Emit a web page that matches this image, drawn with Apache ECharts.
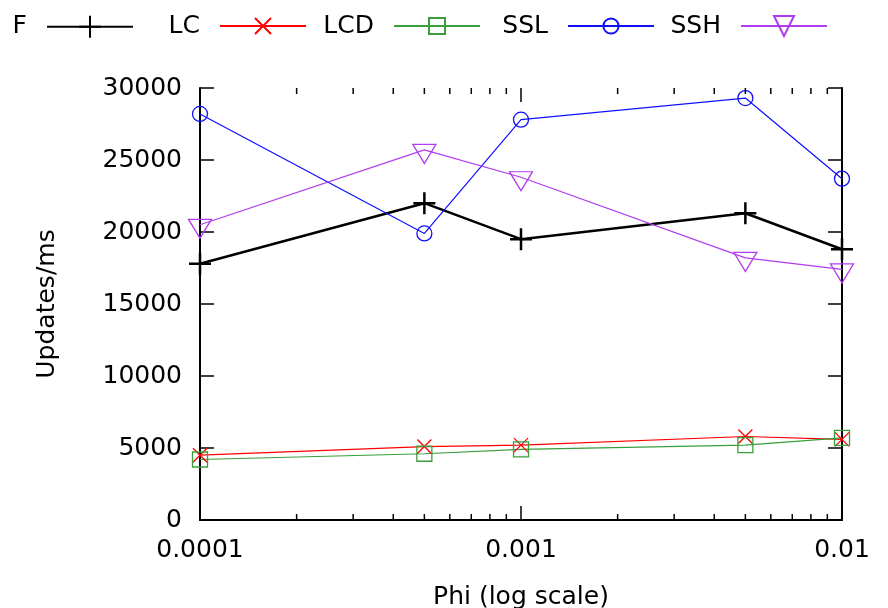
<!DOCTYPE html>
<html><head><meta charset="utf-8">
<script src="https://cdn.jsdelivr.net/npm/echarts@6/dist/echarts.min.js"></script>
<style>html,body{margin:0;padding:0;background:#fff}#c{width:888px;height:608px}</style>
</head><body><div id="c"></div>
<script>
const phi = [0.0001, 0.0005, 0.001, 0.005, 0.01];
const seriesNames = ['F', 'LC', 'LCD', 'SSL', 'SSH'];
const valF   = [17800, 22000, 19500, 21300, 18800];
const valLC  = [4500, 5100, 5200, 5800, 5600];
const valLCD = [4200, 4600, 4900, 5200, 5700];
const valSSL = [28200, 19900, 27800, 29300, 23700];
const valSSH = [20500, 25700, 23800, 18200, 17400];
const yTicks = [0, 5000, 10000, 15000, 20000, 25000, 30000];
const xMajorTicks = [0.0001, 0.001, 0.01];
const xTickLabels = ['0.0001', '0.001', '0.01'];
const xMinorTicks = [0.0002,0.0003,0.0004,0.0005,0.0006,0.0007,0.0008,0.0009,0.002,0.003,0.004,0.005,0.006,0.007,0.008,0.009];

const FONT = 'DejaVu Sans';
const FS = 25;

function pairs(vals){ return phi.map((x,i)=>[x, vals[i]]); }

const styles = [
  {color:'#000000', width:2.5, symbol:'path://M5,0 L5,10 M0,5 L10,5', size:22, bw:2.5, off:[0,0]},
  {color:'#ff0000', width:1.2, symbol:'path://M0,0 L10,10 M0,10 L10,0', size:14, bw:1.3, off:[0,0]},
  {color:'#3a9e3a', width:1.2, symbol:'path://M0,0 L10,0 L10,10 L0,10 Z', size:15, bw:1.3, off:[0,0]},
  {color:'#1010ff', width:1.2, symbol:'path://M10,5 A5,5 0 1 1 0,5 A5,5 0 1 1 10,5 Z', size:15, bw:1.3, off:[0,0]},
  {color:'#b03cf0', width:1.2, symbol:'path://M0,0 L12,0 L6,10 Z', size:[23,19], bw:1.3, off:[0,4]}
];
const allVals = [valF, valLC, valLCD, valSSL, valSSH];

const lineSeries = seriesNames.map((n,i)=>({
  name:n, type:'line', data:pairs(allVals[i]),
  symbol:styles[i].symbol, symbolSize:styles[i].size, symbolOffset:styles[i].off, showAllSymbol:true,
  lineStyle:{color:styles[i].color, width:styles[i].width},
  itemStyle:{color:'rgba(0,0,0,0)', borderColor:styles[i].color, borderWidth:styles[i].bw},
  emphasis:{disabled:true}, z:3
}));

const minorSeries = {
  type:'custom', coordinateSystem:'cartesian2d', silent:true, clip:false, z:5,
  data: xMinorTicks.map(v=>[v,0]).concat(xMajorTicks.map(v=>[v,1])),
  renderItem:function(params, api){
    const v = api.value(0);
    const major = api.value(1) === 1;
    const len = major ? 14 : 6;
    const pb = api.coord([v, 0]);
    const pt = api.coord([v, 30000]);
    const st = {stroke:'#000', lineWidth:1.5};
    return {type:'group', children:[
      {type:'line', shape:{x1:pb[0], y1:pb[1], x2:pb[0], y2:pb[1]-len}, style:st},
      {type:'line', shape:{x1:pt[0], y1:pt[1], x2:pt[0], y2:pt[1]+len}, style:st}
    ]};
  }
};

const legendRight = [888-134, 888-307, 888-481, 888-655, 888-828];
const legendHeights = [27.5, 20, 20, 19, 25];
const legendTopAdj = [4, 2, 2, 2, 2];
const legends = seriesNames.map((n,i)=>({
  data:[n], top:24 - Math.max(legendHeights[i], 25)/2 + legendTopAdj[i], right:legendRight[i], align:'right', padding:0,
  itemWidth:86, itemHeight:legendHeights[i], selectedMode:false,
  textStyle:{fontFamily:FONT, fontSize:FS, color:'#000', padding:[0,15,0,0]}
}));

const chart = echarts.init(document.getElementById('c'), null, {renderer:'canvas'});
chart.setOption({
  animation:false,
  backgroundColor:'#ffffff',
  legend: legends,
  grid:{left:200, right:46, top:88, bottom:88, containLabel:false, outerBoundsMode:'none'},
  xAxis:[{
    type:'log', logBase:10, min:0.0001, max:0.01, position:'bottom',
    name:'Phi (log scale)', nameLocation:'middle', nameGap:65,
    nameTextStyle:{fontFamily:FONT, fontSize:FS, color:'#000', verticalAlign:'top'},
    axisLine:{show:true, lineStyle:{color:'#000', width:2}},
    axisTick:{show:false},
    axisLabel:{fontFamily:FONT, fontSize:FS, color:'#000', margin:18,
      formatter:function(v){ const i = xMajorTicks.findIndex(t=>Math.abs(t-v)/t<1e-6); return i>=0 ? xTickLabels[i] : ''; } },
    splitLine:{show:false}
  },{
    type:'log', logBase:10, min:0.0001, max:0.01, position:'top',
    axisLine:{show:true, lineStyle:{color:'#000', width:2}},
    axisTick:{show:false}, axisLabel:{show:false}, splitLine:{show:false}
  }],
  yAxis:[{
    type:'value', min:0, max:30000, interval:5000, position:'left',
    name:'Updates/ms', nameLocation:'middle', nameGap:140, nameRotate:90,
    nameTextStyle:{fontFamily:FONT, fontSize:FS, color:'#000'},
    axisLine:{show:true, lineStyle:{color:'#000', width:2}},
    axisTick:{show:true, inside:true, length:14, lineStyle:{color:'#000', width:1.5}},
    axisLabel:{fontFamily:FONT, fontSize:FS, color:'#000', margin:18, formatter:function(v){return String(v);}},
    splitLine:{show:false}
  },{
    type:'value', min:0, max:30000, interval:5000, position:'right',
    axisLine:{show:true, lineStyle:{color:'#000', width:2}},
    axisTick:{show:true, inside:true, length:14, lineStyle:{color:'#000', width:1.5}},
    axisLabel:{show:false}, splitLine:{show:false}
  }],
  series: lineSeries.concat([minorSeries])
});
</script></body></html>
